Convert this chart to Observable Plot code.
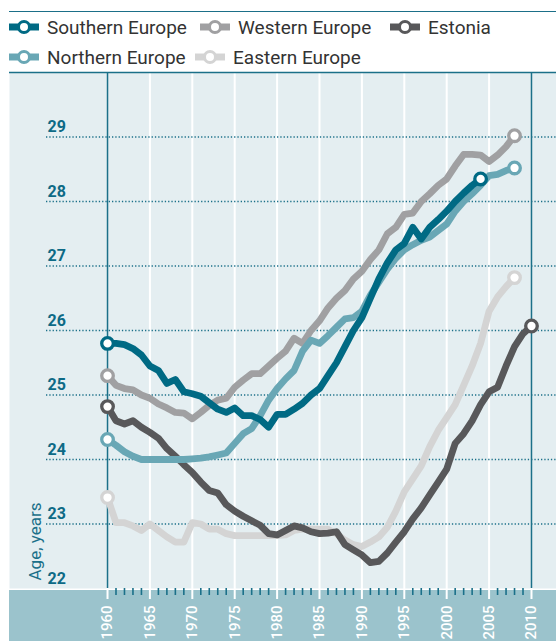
<!DOCTYPE html>
<html><head><meta charset="utf-8">
<script src="https://cdn.jsdelivr.net/npm/d3@7"></script>
<script src="https://cdn.jsdelivr.net/npm/@observablehq/plot@0.6"></script>
<style>
body{margin:0;background:#fff;font-family:Roboto,sans-serif;}
#wrap{position:relative;width:556px;height:641px;overflow:hidden;}
#topline{position:absolute;left:9px;right:0;top:11px;height:0;border-top:1.5px solid #1b6f88;}
.item{position:absolute;display:flex;align-items:center;font-size:19px;color:#333;height:24px;white-space:nowrap;}
.item svg{margin-right:8px;flex:none}
#band{position:absolute;left:9px;right:0;top:590px;bottom:0;background:#9bc3cc;}
#chart{position:absolute;left:0;top:70px;}
</style></head>
<body>
<div id="wrap">
  <div id="topline"></div>
  <div id="legend"></div>
  <div id="band"></div>
  <div id="chart"></div>
</div>
<script>
// ---- data ----
const seriesNames = ["Southern Europe", "Western Europe", "Estonia", "Northern Europe", "Eastern Europe"];
const seriesColors = ["#006a84", "#a0a0a2", "#58585a", "#69a7b5", "#d4d4d4"];
const startYear = 1960;
const southern = [25.8,25.8,25.78,25.72,25.62, 25.45,25.38,25.18,25.24,25.05, 25.02,24.98,24.88,24.78,24.73,
  24.8,24.68,24.68,24.62,24.5, 24.7,24.7,24.78,24.87,25.0, 25.1,25.3,25.5,25.75,26.0,
  26.2,26.5,26.8,27.05,27.25, 27.35,27.6,27.42,27.6,27.72, 27.85,28.0,28.13,28.25,28.35];
const western = [25.3,25.15,25.1,25.08,25.0, 24.95,24.86,24.8,24.73,24.72, 24.63,24.73,24.84,24.92,24.95,
  25.12,25.23,25.33,25.33,25.45, 25.57,25.68,25.88,25.8,26.0, 26.15,26.35,26.5,26.62,26.8,
  26.92,27.1,27.25,27.5,27.6, 27.8,27.82,28.0,28.12,28.25, 28.35,28.55,28.73,28.73,28.72,
  28.62,28.72,28.85,29.02];
const estonia = [24.82,24.6,24.55,24.6,24.5, 24.42,24.33,24.17,24.05,23.92, 23.8,23.65,23.52,23.48,23.3,
  23.2,23.12,23.05,22.98,22.85, 22.83,22.9,22.97,22.94,22.88, 22.85,22.86,22.88,22.68,22.6,
  22.52,22.4,22.42,22.55,22.72, 22.88,23.08,23.25,23.45,23.65, 23.85,24.25,24.4,24.6,24.85,
  25.05,25.12,25.45,25.75,25.95, 26.07];
const northern = [24.31,24.22,24.12,24.05,24.0, 24.0,24.0,24.0,24.0,24.0, 24.01,24.02,24.04,24.07,24.1,
  24.25,24.4,24.48,24.68,24.92, 25.1,25.25,25.38,25.68,25.85, 25.8,25.92,26.05,26.18,26.2,
  26.3,26.55,26.75,26.95,27.12, 27.25,27.33,27.4,27.45,27.55, 27.65,27.85,28.0,28.12,28.25,
  28.4,28.42,28.48,28.52];
const eastern = [23.41,23.02,23.02,22.97,22.9, 23.0,22.9,22.8,22.72,22.72, 23.02,23.0,22.92,22.92,22.85,
  22.82,22.82,22.82,22.82,22.82, 22.82,22.83,22.9,22.92,22.92, 22.92,22.92,22.85,22.75,22.68,
  22.65,22.72,22.8,22.95,23.2, 23.5,23.7,23.9,24.2,24.45, 24.65,24.85,25.15,25.45,25.8,
  26.3,26.52,26.68,26.82];
const seriesValues = [southern, western, estonia, northern, eastern];
const yTickLabels = [22, 23, 24, 25, 26, 27, 28, 29];
const yGridTicks = [23, 24, 25, 26, 27, 28, 29];
const xMajorTicks = [1960, 1965, 1970, 1975, 1980, 1985, 1990, 1995, 2000, 2005, 2010];
const xMinorTicks = d3.range(1960, 2011).filter(y => y % 5 !== 0);
const yAxisTitle = "Age, years";

// ---- legend ----
const legendPos = [[9, 15], [200, 15], [390, 15], [9, 45], [195, 45]];
const legend = document.getElementById("legend");
seriesNames.forEach((name, i) => {
  const d = document.createElement("div");
  d.className = "item";
  d.style.left = legendPos[i][0] + "px";
  d.style.top = legendPos[i][1] + "px";
  const c = seriesColors[i];
  d.innerHTML = `<svg width="30" height="16"><line x1="0" x2="30" y1="8" y2="8" stroke="${c}" stroke-width="7"/><circle cx="15" cy="8" r="5.5" fill="white" stroke="${c}" stroke-width="3"/></svg><span>${name}</span>`;
  legend.appendChild(d);
});

// ---- chart ----
const rows = [];
seriesValues.forEach((vals, i) => vals.forEach((v, j) => rows.push({series: seriesNames[i], year: startYear + j, value: v})));
const ends = [];
seriesValues.forEach((vals, i) => {
  ends.push({series: seriesNames[i], year: startYear, value: vals[0]});
  ends.push({series: seriesNames[i], year: startYear + vals.length - 1, value: vals[vals.length - 1]});
});
const drawOrder = ["Eastern Europe", "Estonia", "Western Europe", "Northern Europe", "Southern Europe"];
const colorOf = n => seriesColors[seriesNames.indexOf(n)];
const teal = "#0d6a86";
const teal2 = "#1b7089";

const lineMarks = drawOrder.map(n => Plot.line(rows.filter(r => r.series === n), {x: "year", y: "value", stroke: colorOf(n), strokeWidth: 6.8}));
const dotMarks = drawOrder.map(n => Plot.dot(ends.filter(r => r.series === n), {x: "year", y: "value", r: 5.8, fill: "white", stroke: colorOf(n), strokeWidth: 3.3}));

const chart = Plot.plot({
  width: 556, height: 571,
  marginTop: 2, marginBottom: 53, marginLeft: 9, marginRight: 0,
  x: {domain: [1948.44, 2012.95]},
  y: {domain: [22, 30], axis: null},
  style: {fontFamily: "Roboto, sans-serif", fontSize: "15px", background: "transparent", overflow: "visible"},
  marks: [
    Plot.frame({fill: "#e4eef1", stroke: "none"}),
    Plot.ruleX(xMajorTicks.filter(d => d > 1960 && d < 2010), {stroke: "white", strokeWidth: 2}),
    Plot.ruleY(yGridTicks, {stroke: teal2, strokeWidth: 1.3, strokeDasharray: "1.3,2", insetLeft: 37}),
    Plot.ruleX([1960, 2010], {stroke: teal2, strokeWidth: 1.5}),
    Plot.ruleY([30], {stroke: teal2, strokeWidth: 1.5}),
    Plot.text(yTickLabels, {y: d => d, frameAnchor: "left", dx: 38, dy: -5, text: d => String(d), textAnchor: "start", lineAnchor: "bottom", fill: teal, fontWeight: "bold", fontSize: 16}),
    Plot.text([yAxisTitle], {frameAnchor: "bottom-left", rotate: -90, textAnchor: "start", lineAnchor: "bottom", dx: 31, dy: -8, text: d => d, fill: teal2, fontSize: 17}),
    ...lineMarks,
    ...dotMarks,
    Plot.axisX(xMinorTicks, {anchor: "bottom", tickSize: 7, stroke: teal2, strokeWidth: 1.6, tickFormat: () => "", label: null}),
    Plot.axisX(xMajorTicks, {anchor: "bottom", tickSize: 11, stroke: "white", strokeWidth: 2, tickRotate: -90, tickPadding: 6, fill: "white", fontSize: 15, fontWeight: 500, tickFormat: d => String(d), label: null})
  ]
});
document.getElementById("chart").appendChild(chart);
</script>
</body></html>
